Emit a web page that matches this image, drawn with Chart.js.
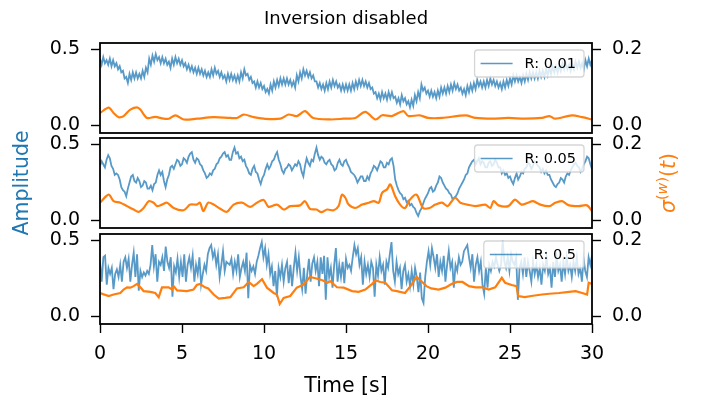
<!DOCTYPE html>
<html>
<head>
<meta charset="utf-8">
<script src="https://cdn.jsdelivr.net/npm/chart.js@4.4.1/dist/chart.umd.min.js"></script>
<style>
  html, body { margin: 0; background: #fff; }
  #fig { position: relative; width: 702px; height: 399px; overflow: hidden; background: #fff; }
  #fig canvas { position: absolute; left: 0; }
</style>
</head>
<body>
<div id="fig">
  <canvas id="c1" width="702" height="160" style="top:0px"></canvas>
  <canvas id="c2" width="702" height="175" style="top:95px"></canvas>
  <canvas id="c3" width="702" height="199" style="top:200px"></canvas>
</div>
<script>
// --- data -------------------------------------------------------------
const xTicks = [0, 5, 10, 15, 20, 25, 30];
const ampTicks = [0.0, 0.5];
const sigmaTicks = [0.0, 0.2];
const labels = ['R: 0.01', 'R: 0.05', 'R: 0.5'];

// amplitude, 0..30 s, evenly sampled
const amp1 = [
  0.44,0.40,0.45,0.41,0.43,0.40,0.44,0.39,0.43,0.39, 0.41,0.37,0.39,0.35,0.36,0.31,0.32,0.28,0.34,0.30,
  0.35,0.31,0.35,0.31,0.34,0.31,0.36,0.32,0.38,0.35, 0.44,0.40,0.46,0.42,0.47,0.43,0.45,0.41,0.45,0.41,
  0.44,0.40,0.42,0.38,0.44,0.40,0.45,0.41,0.44,0.40, 0.43,0.39,0.41,0.37,0.40,0.36,0.39,0.35,0.38,0.34,
  0.38,0.34,0.37,0.33,0.36,0.32,0.35,0.32,0.37,0.33, 0.38,0.34,0.36,0.32,0.35,0.31,0.33,0.29,0.34,0.30,
  0.34,0.30,0.33,0.29,0.33,0.29,0.35,0.31,0.37,0.33, 0.34,0.30,0.32,0.28,0.29,0.25,0.29,0.25,0.28,0.24,
  0.26,0.22,0.24,0.21,0.27,0.23,0.29,0.25,0.30,0.26, 0.31,0.27,0.31,0.27,0.31,0.27,0.30,0.26,0.29,0.25,
  0.33,0.29,0.35,0.31,0.37,0.33,0.36,0.32,0.35,0.31, 0.33,0.29,0.29,0.25,0.28,0.24,0.27,0.23,0.28,0.24,
  0.29,0.25,0.30,0.26,0.29,0.25,0.27,0.23,0.27,0.23, 0.27,0.23,0.27,0.23,0.28,0.24,0.29,0.25,0.30,0.26,
  0.30,0.26,0.29,0.25,0.28,0.24,0.25,0.21,0.22,0.18, 0.21,0.17,0.22,0.18,0.21,0.17,0.22,0.18,0.22,0.18,
  0.19,0.15,0.18,0.14,0.20,0.16,0.18,0.14,0.16,0.12, 0.17,0.13,0.20,0.16,0.22,0.18,0.27,0.23,0.25,0.21,
  0.23,0.19,0.23,0.19,0.22,0.18,0.23,0.19,0.25,0.21, 0.25,0.21,0.26,0.22,0.27,0.23,0.28,0.24,0.27,0.23,
  0.25,0.21,0.24,0.20,0.26,0.22,0.27,0.23,0.28,0.24, 0.30,0.26,0.29,0.25,0.29,0.25,0.30,0.26,0.31,0.27,
  0.30,0.26,0.29,0.25,0.28,0.24,0.29,0.25,0.30,0.26, 0.31,0.27,0.33,0.29,0.33,0.29,0.32,0.28,0.33,0.29,
  0.34,0.30,0.35,0.31,0.35,0.31,0.35,0.31,0.36,0.32, 0.36,0.32,0.37,0.33,0.38,0.34,0.39,0.35,0.39,0.35,
  0.40,0.36,0.41,0.37,0.41,0.37,0.40,0.36,0.41,0.37, 0.42,0.38,0.42,0.38,0.41,0.37,0.43,0.39,0.44,0.40,
  0.43
];
const amp2 = [
  0.36,0.39,0.37,0.35,0.40,0.43,0.41,0.36,0.34,0.30, 0.31,0.30,0.27,0.22,0.20,0.19,0.16,0.21,0.25,0.29,
  0.30,0.26,0.25,0.28,0.26,0.22,0.23,0.26,0.25,0.21, 0.21,0.23,0.20,0.24,0.25,0.30,0.33,0.30,0.32,0.26,
  0.22,0.27,0.30,0.35,0.36,0.34,0.37,0.40,0.39,0.36, 0.37,0.41,0.40,0.38,0.42,0.44,0.45,0.40,0.38,0.41,
  0.40,0.37,0.36,0.33,0.31,0.28,0.29,0.31,0.30,0.33, 0.34,0.37,0.38,0.41,0.42,0.44,0.45,0.42,0.43,0.40,
  0.40,0.45,0.48,0.44,0.45,0.41,0.42,0.39,0.40,0.36, 0.34,0.31,0.30,0.34,0.36,0.32,0.31,0.27,0.24,0.28,
  0.30,0.34,0.37,0.34,0.36,0.39,0.40,0.43,0.45,0.40, 0.37,0.33,0.31,0.34,0.35,0.37,0.36,0.33,0.35,0.37,
  0.36,0.39,0.37,0.32,0.29,0.36,0.41,0.38,0.36,0.40, 0.39,0.44,0.48,0.43,0.40,0.42,0.41,0.38,0.37,0.39,
  0.40,0.37,0.36,0.33,0.34,0.38,0.40,0.37,0.36,0.39, 0.40,0.37,0.35,0.32,0.31,0.30,0.28,0.25,0.27,0.29,
  0.29,0.26,0.26,0.29,0.27,0.31,0.33,0.36,0.35,0.33, 0.36,0.39,0.38,0.35,0.35,0.38,0.37,0.40,0.41,0.36,
  0.27,0.23,0.20,0.18,0.17,0.14,0.15,0.12,0.13,0.10, 0.11,0.09,0.08,0.05,0.03,0.06,0.08,0.11,0.14,0.16,
  0.18,0.21,0.22,0.19,0.20,0.23,0.25,0.29,0.28,0.25, 0.23,0.21,0.20,0.18,0.17,0.14,0.15,0.16,0.18,0.21,
  0.23,0.25,0.27,0.30,0.31,0.35,0.37,0.39,0.40,0.37, 0.39,0.41,0.37,0.39,0.38,0.35,0.35,0.38,0.39,0.36,
  0.37,0.40,0.38,0.35,0.35,0.31,0.33,0.30,0.31,0.28, 0.29,0.26,0.24,0.28,0.31,0.27,0.29,0.32,0.31,0.34,
  0.35,0.38,0.37,0.34,0.36,0.39,0.38,0.36,0.35,0.32, 0.34,0.31,0.33,0.30,0.30,0.27,0.25,0.23,0.22,0.24,
  0.25,0.28,0.27,0.25,0.29,0.31,0.30,0.33,0.35,0.37, 0.38,0.36,0.35,0.32,0.34,0.37,0.39,0.42,0.41,0.37,
  0.34
];
const amp3 = [
  0.36,0.23,0.39,0.40,0.21,0.32,0.28,0.32,0.18,0.28,
  0.31,0.26,0.34,0.23,0.36,0.39,0.32,0.38,0.23,0.34,
  0.42,0.26,0.41,0.17,0.30,0.26,0.29,0.27,0.30,0.28,
  0.34,0.47,0.33,0.41,0.23,0.36,0.34,0.39,0.30,0.46,
  0.36,0.32,0.39,0.13,0.33,0.29,0.38,0.26,0.36,0.26,
  0.41,0.23,0.34,0.39,0.32,0.40,0.23,0.34,0.28,0.39,
  0.21,0.28,0.34,0.30,0.41,0.45,0.47,0.39,0.43,0.34,
  0.41,0.26,0.34,0.43,0.30,0.36,0.35,0.34,0.38,0.28,
  0.36,0.30,0.41,0.26,0.32,0.36,0.30,0.42,0.12,0.34,
  0.30,0.33,0.28,0.36,0.40,0.45,0.49,0.39,0.45,0.34,
  0.41,0.28,0.33,0.20,0.30,0.13,0.32,0.26,0.34,0.23,
  0.32,0.36,0.22,0.34,0.20,0.32,0.42,0.30,0.39,0.26,
  0.18,0.32,0.15,0.28,0.38,0.23,0.35,0.39,0.30,0.36,
  0.20,0.39,0.28,0.40,0.11,0.39,0.26,0.32,0.19,0.34,
  0.45,0.23,0.34,0.26,0.36,0.22,
  0.38,0.32,0.34,0.30,0.39,0.47,0.41,0.45,0.34,0.39,
  0.21,0.36,0.28,0.34,0.26,0.36,0.32,0.13,0.34,0.27,
  0.39,0.30,0.34,0.21,0.36,0.32,0.41,0.49,0.30,0.23,
  0.36,0.28,0.32,0.18,0.30,0.34,0.23,0.28,0.20,0.30,
  0.21,0.32,0.26,0.16,0.29,0.12,0.09,0.26,0.36,0.43,
  0.34,0.45,0.39,0.32,0.41,0.26,0.36,0.30,0.40,0.23,
  0.34,0.43,0.32,0.36,0.19,0.34,0.30,0.39,0.34,0.36,
  0.43,0.45,0.47,0.39,0.32,0.41,0.23,0.34,0.39,0.30,
  0.36,0.21,0.15,0.32,0.19,0.34,0.30,0.36,0.33,0.39,
  0.34,0.30,0.34,0.50,0.36,0.32,0.39,0.30,0.41,0.36,
  0.34,0.39,0.11,0.32,0.36,0.28,0.39,0.26,0.36,0.30,
  0.23,0.36,0.28,0.34,0.26,0.32,0.21,0.34,0.30,0.39,
  0.28,0.32,0.19,0.36,0.26,0.39,0.30,0.34,0.23,0.36,
  0.28,0.39,0.30,0.34,0.26,0.36,0.30,0.39,0.28,0.32,
  0.23,0.38,0.30,0.26,0.39,0.34,0.40
];

// sigma^(w)(t), sampled at the listed times
const sigT1 = [0,0.53,0.83,1.14,1.44,1.85,2.26,2.46,2.87,3.37,3.88,4.19,4.6,5.1,5.9,6.9,7.95,8.35,8.76,9.37,
  9.98,11.0,11.5,12.0,12.5,13.0,14.05,14.86,15.57,16.18,16.8,17.2,17.8,18.5,18.8,19.5,20.0,20.85,22.3,22.9,
  23.9,24.9,25.9,26.95,27.4,27.76,28.78,29.4,30];
const sig1 = [0.033,0.047,0.033,0.022,0.025,0.042,0.048,0.042,0.020,0.023,0.018,0.018,0.027,0.016,0.018,0.022,0.020,0.020,0.029,0.022,
  0.018,0.018,0.029,0.025,0.038,0.020,0.016,0.018,0.020,0.036,0.016,0.027,0.025,0.038,0.025,0.027,0.020,0.020,0.027,0.020,
  0.018,0.020,0.018,0.020,0.025,0.018,0.027,0.022,0.016];

const sigT2 = [0,0.53,0.83,1.24,1.65,2.05,2.36,2.66,2.97,3.27,3.48,3.78,4.09,4.49,5.1,5.5,5.9,6.1,6.3,6.6,
  6.93,7.34,7.74,8.15,8.66,9.17,9.57,9.98,10.28,10.79,11.2,11.6,12.2,12.5,12.8,13.2,13.5,13.85,14.25,14.55,
  14.75,14.96,15.16,15.57,15.98,16.4,16.7,17.0,17.2,17.5,17.7,18.0,18.3,18.6,18.9,19.3,19.7,20.1,20.45,20.85,
  21.2,21.45,21.67,21.97,22.4,22.9,23.5,23.8,24.0,24.3,24.9,25.3,25.7,26.1,26.4,26.85,27.4,27.76,28.17,28.6,
  29.2,29.7,30];
const sig2 = [0.047,0.068,0.051,0.047,0.038,0.029,0.023,0.033,0.051,0.047,0.038,0.042,0.047,0.033,0.027,0.042,0.042,0.047,0.025,0.047,
  0.042,0.031,0.023,0.042,0.047,0.036,0.047,0.054,0.036,0.042,0.029,0.038,0.040,0.051,0.031,0.029,0.022,0.029,0.027,0.038,
  0.068,0.060,0.042,0.033,0.042,0.047,0.051,0.047,0.073,0.082,0.095,0.064,0.042,0.033,0.055,0.068,0.033,0.033,0.042,0.047,
  0.038,0.051,0.060,0.047,0.042,0.038,0.042,0.033,0.051,0.040,0.038,0.055,0.042,0.047,0.051,0.042,0.038,0.047,0.051,0.040,
  0.038,0.040,0.025];

const sigT3 = [0,0.53,0.83,1.24,1.44,1.65,1.85,2.05,2.26,2.46,2.66,3.07,3.37,3.58,3.78,4.19,4.4,4.49,4.7,5.3,
  5.7,5.9,6.1,6.4,6.6,6.93,7.24,7.64,7.95,8.35,8.76,9.07,9.37,9.57,9.88,10.18,10.59,10.79,10.96,11.2,
  11.6,12.0,12.4,12.8,13.2,13.6,13.85,14.05,14.45,14.86,15.37,15.77,16.18,16.6,16.8,17.1,17.4,17.8,18.1,18.6,
  19.0,19.3,19.6,19.9,20.2,20.65,21.06,21.46,21.77,22.1,22.5,22.9,23.3,23.7,24.1,24.5,24.7,25.1,25.4,25.5,
  25.9,26.3,26.95,27.4,28.0,28.6,29.0,29.4,29.7,29.8,30];
const sig3 = [0.062,0.054,0.058,0.062,0.071,0.077,0.076,0.080,0.086,0.077,0.067,0.065,0.062,0.051,0.077,0.077,0.071,0.080,0.069,0.067,
  0.071,0.083,0.086,0.077,0.074,0.058,0.047,0.049,0.051,0.074,0.077,0.091,0.080,0.086,0.098,0.076,0.062,0.058,0.033,0.049,
  0.054,0.076,0.084,0.104,0.100,0.095,0.089,0.093,0.077,0.076,0.067,0.065,0.071,0.086,0.095,0.091,0.089,0.069,0.067,0.062,
  0.084,0.104,0.093,0.080,0.074,0.071,0.076,0.086,0.091,0.091,0.080,0.077,0.077,0.071,0.077,0.102,0.089,0.083,0.080,0.054,
  0.051,0.054,0.058,0.060,0.062,0.065,0.067,0.062,0.058,0.089,0.086];

// --- styling ----------------------------------------------------------
const FONT = 'DejaVu Sans';
const BLUE = '#1f77b4';
const BLUE_LINE = 'rgba(31,119,180,0.75)';
const ORANGE = '#ff7f0e';
const AMP_RANGE = [-0.049, 0.543];
const SIG_RANGE = [AMP_RANGE[0] * 0.4, AMP_RANGE[1] * 0.4];

Chart.defaults.font.family = FONT;
Chart.defaults.color = '#000';

const tickGrid = { drawOnChartArea: false, tickLength: 9, tickWidth: 1.4, tickColor: '#000' };

// axes frame + legend box in the upper right corner
const framePlugin = {
  id: 'frame',
  afterDatasetsDraw(chart) {
    const { ctx, chartArea: a } = chart;
    ctx.save();
    ctx.strokeStyle = '#000';
    ctx.lineWidth = 1.8;
    ctx.strokeRect(a.left, a.top, a.right - a.left, a.bottom - a.top);

    const label = chart.data.datasets[1].label;
    ctx.font = '14.5px "' + FONT + '"';
    const tw = ctx.measureText(label).width;
    const h = 27, w = 6 + 32 + 12 + tw + 8;
    const right = a.right - 8, top = a.top + 7, left = right - w;
    ctx.beginPath();
    ctx.roundRect(left, top, w, h, 3);
    ctx.fillStyle = 'rgba(255,255,255,0.8)';
    ctx.fill();
    ctx.strokeStyle = 'rgba(204,204,204,0.8)';
    ctx.lineWidth = 1.3;
    ctx.stroke();
    ctx.beginPath();
    ctx.moveTo(left + 6, top + h / 2);
    ctx.lineTo(left + 38, top + h / 2);
    ctx.strokeStyle = BLUE_LINE;
    ctx.lineWidth = 1.5;
    ctx.stroke();
    ctx.fillStyle = '#000';
    ctx.textBaseline = 'middle';
    ctx.fillText(label, left + 50, top + h / 2 + 1);
    ctx.restore();
  }
};

// right-hand label: sigma^(w)(t), rotated
const sigmaLabel = {
  id: 'sigmaLabel',
  afterDraw(chart) {
    const { ctx, chartArea: a } = chart;
    const big = 20.5, small = 14.5;
    const parts = [
      ['\u03c3', 'italic ' + big, 0],
      ['(', '' + small, -8],
      ['w', 'italic ' + small, -8],
      [')', '' + small, -8],
      ['(', '' + big, 0],
      ['t', 'italic ' + big, 0],
      [')', '' + big, 0]
    ];
    ctx.save();
    ctx.fillStyle = ORANGE;
    let total = 0;
    for (const p of parts) {
      ctx.font = p[1] + 'px "' + FONT + '"';
      total += ctx.measureText(p[0]).width;
    }
    ctx.translate(675, (a.top + a.bottom) / 2 + total / 2);
    ctx.rotate(-Math.PI / 2);
    ctx.textBaseline = 'alphabetic';
    let x = 0;
    for (const p of parts) {
      ctx.font = p[1] + 'px "' + FONT + '"';
      ctx.fillText(p[0], x, p[2]);
      x += ctx.measureText(p[0]).width;
    }
    ctx.restore();
  }
};

function makePanel(id, amp, sigT, sig, label, cfg) {
  const n = amp.length;
  const ampPts = amp.map((v, i) => ({ x: i * 30 / (n - 1), y: v }));
  const sigPts = sig.map((v, i) => ({ x: sigT[i], y: v }));
  const plugins = [framePlugin];
  if (cfg.sigmaTitle) plugins.push(sigmaLabel);

  return new Chart(document.getElementById(id), {
    type: 'line',
    data: {
      datasets: [
        { label: 'sigma', data: sigPts, yAxisID: 'y2', borderColor: ORANGE, borderWidth: 2.2,
          pointRadius: 0, tension: cfg.sigTension },
        { label: label, data: ampPts, yAxisID: 'y', borderColor: BLUE_LINE, borderWidth: 1.8,
          pointRadius: 0, tension: 0 }
      ]
    },
    options: {
      responsive: false,
      devicePixelRatio: 1,
      animation: false,
      events: [],
      layout: { padding: { top: cfg.padTop, bottom: cfg.padBottom, left: 0, right: 0 } },
      plugins: {
        legend: { display: false },
        tooltip: { enabled: false },
        title: cfg.title ? {
          display: true, text: cfg.title, color: '#000', fullSize: false,
          font: { family: FONT, size: 18, weight: 'normal' },
          padding: { top: 9, bottom: 12.4 }
        } : { display: false }
      },
      scales: {
        x: {
          type: 'linear', min: 0, max: 30,
          display: cfg.showX,
          afterBuildTicks: s => { s.ticks = xTicks.map(v => ({ value: v })); },
          afterFit: s => { s.height = cfg.showX ? 75 : 0; },
          grid: tickGrid,
          border: { display: false },
          ticks: { color: '#000', font: { size: 19 }, padding: 10, maxRotation: 0, autoSkip: false },
          title: { display: true, text: 'Time [s]', color: '#000', font: { size: 20.5 },
                   padding: { top: 0, bottom: 0 } }
        },
        y: {
          position: 'left', min: AMP_RANGE[0], max: AMP_RANGE[1],
          afterBuildTicks: s => { s.ticks = ampTicks.map(v => ({ value: v })); },
          afterFit: s => { s.width = 100; },
          grid: tickGrid,
          border: { display: false },
          ticks: { color: '#000', font: { size: 19 }, padding: 11, callback: v => v.toFixed(1) },
          title: cfg.ampTitle ? { display: true, text: 'Amplitude', color: BLUE, font: { size: 20.5 },
                                  padding: { top: 10, bottom: 0 } } : { display: false }
        },
        y2: {
          position: 'right', min: SIG_RANGE[0], max: SIG_RANGE[1],
          afterBuildTicks: s => { s.ticks = sigmaTicks.map(v => ({ value: v })); },
          afterFit: s => { s.width = 110; },
          grid: tickGrid,
          border: { display: false },
          ticks: { color: '#000', font: { size: 19 }, padding: 11, callback: v => v.toFixed(1) }
        }
      }
    },
    plugins: plugins
  });
}

makePanel('c1', amp1, sigT1, sig1, labels[0],
  { padTop: 0, padBottom: 27, title: 'Inversion disabled', showX: false, sigTension: 0.3 });
makePanel('c2', amp2, sigT2, sig2, labels[1],
  { padTop: 43, padBottom: 42, showX: false, ampTitle: true, sigmaTitle: true, sigTension: 0.3 });
makePanel('c3', amp3, sigT3, sig3, labels[2],
  { padTop: 34, padBottom: 0, showX: true, sigTension: 0 });
</script>
</body>
</html>
